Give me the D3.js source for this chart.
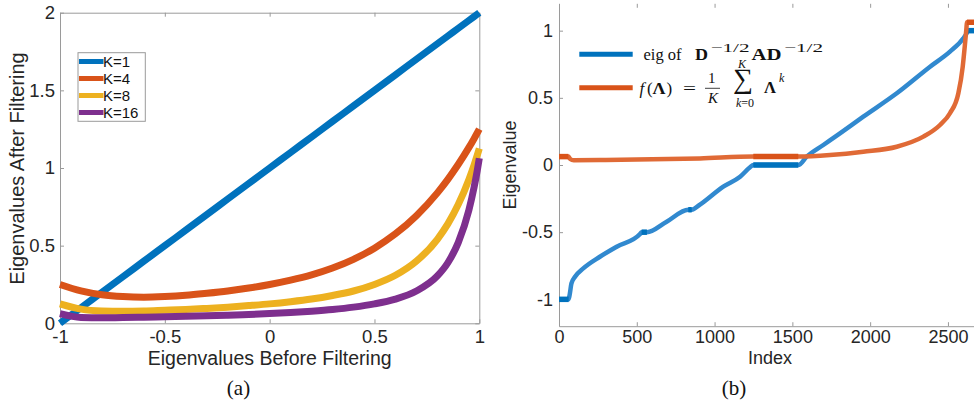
<!DOCTYPE html>
<html>
<head>
<meta charset="utf-8">
<script src="https://cdn.jsdelivr.net/npm/d3@7"></script>
<style>
body{margin:0;background:#fff;}
svg{display:block;font-family:"Liberation Sans",Arial,sans-serif;}
.axis path,.axis line{stroke:#9a9a9a;stroke-width:1;}
.axis text{fill:#262626;}
.math{font-family:"Liberation Serif","Times New Roman",serif;fill:#111;}
</style>
</head>
<body>
<div class="chart"></div>
<script>
// ---- (a) eigenvalues before / after filtering ----
const lambdaGrid = [-1, -0.9, -0.8, -0.7, -0.6, -0.5, -0.4, -0.3, -0.2, -0.1, 0, 0.1, 0.2, 0.3, 0.4, 0.5, 0.6, 0.7, 0.8, 0.85, 0.9, 0.95, 0.975, 0.99, 1];
const afterK1  = [0, 0.1, 0.2, 0.3, 0.4, 0.5, 0.6, 0.7, 0.8, 0.9, 1, 1.1, 1.2, 1.3, 1.4, 1.5, 1.6, 1.7, 1.8, 1.85, 1.9, 1.95, 1.975, 1.99, 2];
const afterK4  = [0.25, 0.209, 0.184, 0.172, 0.168, 0.172, 0.180, 0.193, 0.208, 0.227, 0.25, 0.278, 0.312, 0.356, 0.412, 0.484, 0.576, 0.693, 0.840, 0.927, 1.024, 1.131, 1.189, 1.225, 1.25];
const afterK8  = [0.125, 0.091, 0.079, 0.077, 0.079, 0.084, 0.089, 0.096, 0.104, 0.114, 0.125, 0.139, 0.156, 0.179, 0.208, 0.250, 0.309, 0.400, 0.541, 0.640, 0.766, 0.925, 1.019, 1.081, 1.125];
const afterK16 = [0.0625, 0.038, 0.036, 0.037, 0.039, 0.042, 0.045, 0.048, 0.052, 0.057, 0.0625, 0.069, 0.078, 0.089, 0.104, 0.125, 0.156, 0.208, 0.305, 0.390, 0.521, 0.727, 0.875, 0.982, 1.0625];
const seriesNames = ['K=1', 'K=4', 'K=8', 'K=16'];
const seriesColors = ['#0072BD', '#D95319', '#EDB120', '#7E2F8E'];
const ticksA_x = [-1, -0.5, 0, 0.5, 1];
const ticksA_y = [0, 0.5, 1, 1.5, 2];

// ---- (b) sorted eigenvalues and filtered ones ----
const eigIndex = [0, 62, 70, 80, 103, 156, 263, 371, 521, 531, 565, 692, 831, 853, 906, 1056, 1164, 1228, 1249, 1538, 1592, 1699, 1806, 1956, 2171, 2385, 2513, 2599, 2622, 2628, 2708];
const eigValue = [-1, -1, -0.955, -0.881, -0.832, -0.770, -0.683, -0.608, -0.514, -0.5, -0.5, -0.422, -0.333, -0.333, -0.295, -0.161, -0.087, -0.017, 0, 0, 0.062, 0.149, 0.236, 0.36, 0.534, 0.732, 0.844, 0.943, 0.985, 1, 1];
const filtIndex = [0, 60, 72, 95, 300, 600, 906, 1249, 1538, 1742, 1956, 2171, 2342, 2449, 2513, 2567, 2595, 2610, 2619, 2622, 2708];
const filtValue = [0.0625, 0.0625, 0.045, 0.035, 0.037, 0.042, 0.049, 0.0625, 0.0625, 0.074, 0.099, 0.136, 0.211, 0.298, 0.385, 0.534, 0.732, 0.906, 1.02, 1.0625, 1.0625];
const ticksB_x = [0, 500, 1000, 1500, 2000, 2500];
const ticksB_y = [-1, -0.5, 0, 0.5, 1];

const svg = d3.select('.chart').append('svg')
    .attr('width', 974).attr('height', 402);

drawPanelA();
drawPanelB();

function drawPanelA(){
    const x = d3.scaleLinear().domain([-1, 1]).range([60, 479.3]);
    const y = d3.scaleLinear().domain([0, 2]).range([323.3, 12.7]);
    const g = svg.append('g');

    // box + ticks (inward, MATLAB style)
    g.append('g').attr('class', 'axis').attr('transform', 'translate(0,12.7)')
        .call(d3.axisTop(x).tickValues(ticksA_x).tickSizeInner(-4).tickSizeOuter(0).tickFormat(''));
    g.append('g').attr('class', 'axis').attr('transform', 'translate(479.3,0)')
        .call(d3.axisRight(y).tickValues(ticksA_y).tickSizeInner(-4).tickSizeOuter(0).tickFormat(''));
    g.append('g').attr('class', 'axis').attr('transform', 'translate(0,323.3)')
        .call(d3.axisBottom(x).tickValues(ticksA_x).tickSizeInner(-4).tickSizeOuter(0).tickPadding(7).tickFormat(d => String(d)))
        .selectAll('text').style('font-size', '18.5px');
    g.append('g').attr('class', 'axis').attr('transform', 'translate(60,0)')
        .call(d3.axisLeft(y).tickValues(ticksA_y).tickSizeInner(-4).tickSizeOuter(0).tickPadding(5).tickFormat(d => String(d)))
        .selectAll('text').style('font-size', '18.5px');
    svg.selectAll('.axis .domain').attr('fill', 'none');

    const allAfter = [afterK1, afterK4, afterK8, afterK16];
    const series = seriesNames.map((name, i) => ({
        name: name,
        color: seriesColors[i],
        values: lambdaGrid.map((l, j) => ({x: l, y: allAfter[i][j]}))
    }));
    const line = d3.line().x(d => x(d.x)).y(d => y(d.y)).curve(d3.curveMonotoneX);
    g.selectAll('.filt-line').data(series).enter()
        .append('path').attr('class', 'filt-line')
        .attr('d', d => line(d.values))
        .style('fill', 'none').style('stroke', d => d.color).style('stroke-width', 7);

    // legend
    const lg = g.append('g');
    lg.append('rect').attr('x', 78).attr('y', 52.7).attr('width', 67.3).attr('height', 68.6)
        .style('fill', '#fff').style('stroke', '#9a9a9a');
    series.forEach((s, i) => {
        const yy = 61.5 + i * 17;
        lg.append('line').attr('x1', 79).attr('x2', 103.5).attr('y1', yy).attr('y2', yy)
            .style('stroke', s.color).style('stroke-width', 5);
        lg.append('text').attr('x', 103).attr('y', yy).attr('dy', '0.35em')
            .style('font-size', '15px').style('fill', '#111').text(s.name);
    });

    g.append('text').attr('x', 269.7).attr('y', 365).attr('text-anchor', 'middle')
        .style('font-size', '19.5px').style('fill', '#262626').text('Eigenvalues Before Filtering');
    g.append('text').attr('transform', 'translate(23.5,168.5) rotate(-90)').attr('text-anchor', 'middle')
        .style('font-size', '20px').style('fill', '#262626').text('Eigenvalues After Filtering');
    g.append('text').attr('class', 'math').attr('x', 238.5).attr('y', 395).attr('text-anchor', 'middle')
        .style('font-size', '21px').text('(a)');
}

function drawPanelB(){
    const x = d3.scaleLinear().domain([0, 2708]).range([559, 980.3]);
    const y = d3.scaleLinear().domain([-1.2, 1.2]).range([326.2, 3.8]);
    const g = svg.append('g');

    const top = g.append('g').attr('class', 'axis').attr('transform', 'translate(0,3.8)')
        .call(d3.axisTop(x).tickValues(ticksB_x).tickSizeInner(-4).tickSizeOuter(0).tickFormat(''));
    top.select('.domain').remove();
    g.append('g').attr('class', 'axis').attr('transform', 'translate(0,326.2)')
        .call(d3.axisBottom(x).tickValues(ticksB_x).tickSizeInner(-4).tickSizeOuter(0).tickPadding(4.5).tickFormat(d => String(d)))
        .selectAll('text').style('font-size', '18px');
    g.append('g').attr('class', 'axis').attr('transform', 'translate(559,0)')
        .call(d3.axisLeft(y).tickValues(ticksB_y).tickSizeInner(-4).tickSizeOuter(0).tickPadding(6).tickFormat(d => String(d)))
        .selectAll('text').style('font-size', '18px');
    svg.selectAll('.axis .domain').attr('fill', 'none');

    const eigPts = eigIndex.map((d, i) => ({i: d, v: eigValue[i]}));
    const filtPts = filtIndex.map((d, i) => ({i: d, v: filtValue[i]}));
    const line = d3.line().x(d => x(d.i)).y(d => y(d.v)).curve(d3.curveMonotoneX);

    const lines = [
        {name: 'eig', color: '#0072BD', light: '#3189cf', pts: eigPts},
        {name: 'filt', color: '#D95319', light: '#e06a36', pts: filtPts}
    ];
    lines.forEach(s => {
        g.append('path').attr('d', line(s.pts))
            .style('fill', 'none').style('stroke', s.light).style('stroke-width', 4.5)
            .style('stroke-linejoin', 'round');
        // flat runs look darker / thicker (dense markers)
        for (let k = 0; k < s.pts.length - 1; k++) {
            if (s.pts[k].v === s.pts[k + 1].v) {
                g.append('line')
                    .attr('x1', x(s.pts[k].i)).attr('x2', x(s.pts[k + 1].i))
                    .attr('y1', y(s.pts[k].v)).attr('y2', y(s.pts[k + 1].v))
                    .style('stroke', s.color).style('stroke-width', 5.5);
            }
        }
    });

    // legend with math text
    const lg = g.append('g');
    lg.append('line').attr('x1', 579.3).attr('x2', 632.7).attr('y1', 54.3).attr('y2', 54.3)
        .style('stroke', '#0072BD').style('stroke-width', 5);
    lg.append('line').attr('x1', 579.3).attr('x2', 632.7).attr('y1', 87.7).attr('y2', 87.7)
        .style('stroke', '#D95319').style('stroke-width', 5);

    const m = lg.append('g').attr('class', 'math');
    const piece = (txt, px, py, size, w, style) => {
        const t = m.append('text').attr('x', px).attr('y', py).style('font-size', size + 'px');
        if (w) t.attr('textLength', w).attr('lengthAdjust', 'spacingAndGlyphs');
        if (style === 'b') t.style('font-weight', 'bold');
        if (style === 'i') t.style('font-style', 'italic');
        t.text(txt);
        return t;
    };
    piece('eig of', 643.5, 60, 16.5, 0);
    piece('D', 695, 60, 17, 13, 'b');
    piece('−1/2', 710.5, 51.5, 12.5, 39);
    piece('AD', 751.5, 60, 17, 30, 'b');
    piece('−1/2', 784, 51.5, 12.5, 39);

    piece('f', 639.5, 93.5, 17, 0, 'i');
    piece('(', 647, 93.5, 17);
    piece('Λ', 652.5, 93.5, 17, 13, 'b');
    piece(')', 666.5, 93.5, 17);
    piece('=', 683, 93.5, 17, 13);
    m.append('text').attr('x', 711.7).attr('y', 83.3).attr('text-anchor', 'middle').style('font-size', '15px').text('1');
    m.append('line').attr('x1', 705).attr('x2', 720).attr('y1', 88.3).attr('y2', 88.3)
        .style('stroke', '#111').style('stroke-width', 0.8);
    m.append('text').attr('x', 713).attr('y', 103.3).attr('text-anchor', 'middle')
        .style('font-size', '15px').style('font-style', 'italic').text('K');
    m.append('text').attr('x', 743).attr('y', 88).attr('text-anchor', 'middle').style('font-size', '28px').text('∑');
    m.append('text').attr('x', 742).attr('y', 67.5).attr('text-anchor', 'middle')
        .style('font-size', '12px').style('font-style', 'italic').text('K');
    m.append('text').attr('x', 745).attr('y', 107).attr('text-anchor', 'middle').style('font-size', '12px')
        .html('<tspan font-style="italic">k</tspan>=0');
    piece('Λ', 764, 93, 17, 12, 'b');
    piece('k', 779, 82, 12, 0, 'i');

    g.append('text').attr('x', 770).attr('y', 364).attr('text-anchor', 'middle')
        .style('font-size', '18px').style('fill', '#262626').text('Index');
    g.append('text').attr('transform', 'translate(516,165) rotate(-90)').attr('text-anchor', 'middle')
        .style('font-size', '18px').style('fill', '#262626').text('Eigenvalue');
    g.append('text').attr('class', 'math').attr('x', 734).attr('y', 395).attr('text-anchor', 'middle')
        .style('font-size', '21px').text('(b)');
}
</script>
</body>
</html>
